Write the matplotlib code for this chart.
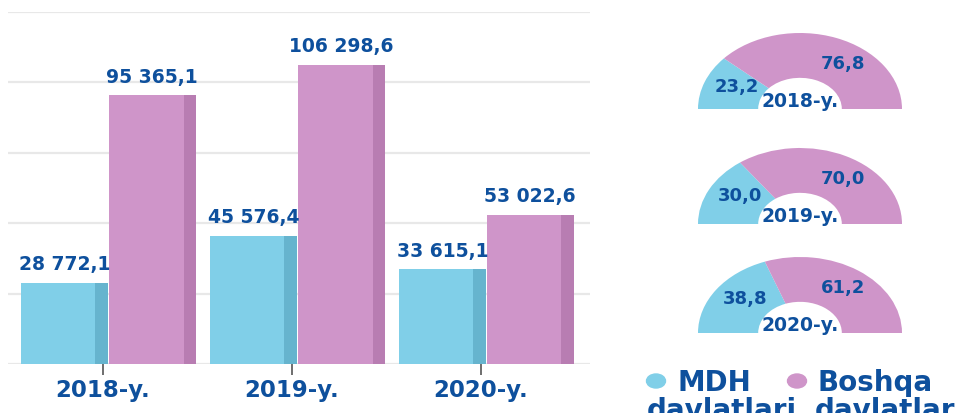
import numpy as np
import matplotlib
matplotlib.use("Agg")
import matplotlib.pyplot as plt
from matplotlib.patches import Ellipse

years = ["2018-y.", "2019-y.", "2020-y."]
mdh = [28772.1, 45576.4, 33615.1]
boshqa = [95365.1, 106298.6, 53022.6]
mdh_share = [23.2, 30.0, 38.8]
boshqa_share = [76.8, 70.0, 61.2]
legend_names = ["MDH\ndavlatlari", "Boshqa\ndavlatlar"]

BLUE = "#80cfe8"
BLUE_DARK = "#66b4ce"
PINK = "#cf95c9"
PINK_DARK = "#b87db2"
TXT = "#0e509d"
W, H = 958, 414

plt.rcParams['font.family'] = ['DejaVu Sans']
fig = plt.figure(figsize=(W / 100, H / 100), dpi=100)

# bar chart
ax = fig.add_axes([8 / W, (H - 365) / H, 582 / W, 352 / H])
x = np.arange(len(years))
bw = 0.46
strip = 0.068
ax.bar(x - bw / 2 - 0.005, mdh, bw, color=BLUE, zorder=2)
ax.bar(x - 0.005 - strip / 2, mdh, strip, color=BLUE_DARK, zorder=3)
ax.bar(x + bw / 2 + 0.005, boshqa, bw, color=PINK, zorder=2)
ax.bar(x + 0.005 + bw - strip / 2, boshqa, strip, color=PINK_DARK, zorder=3)


def fmt(v):
    return f"{v:,.1f}".replace(",", " ").replace(".", ",")


for xi, v in zip(x - bw / 2, mdh):
    ax.annotate(fmt(v), (xi, v), xytext=(0, 7), textcoords="offset points",
                ha="center", va="bottom", fontsize=13.5, fontweight="bold", color=TXT)
for xi, v in zip(x + bw / 2, boshqa):
    ax.annotate(fmt(v), (xi, v), xytext=(0, 7), textcoords="offset points",
                ha="center", va="bottom", fontsize=13.5, fontweight="bold", color=TXT)

ax.set_xlim(-0.532, 2.548)
ax.set_ylim(0, 125000)
ax.set_yticks(np.arange(0, 125001, 25000))
ax.yaxis.grid(True, color="#e8e8e8", linewidth=1.6, zorder=0)
ax.tick_params(axis="y", left=False, labelleft=False)
ax.set_xticks(x - 0.03)
ax.set_xticklabels(years, fontsize=16.5, fontweight="bold", color=TXT)
ax.tick_params(axis="x", length=8, width=1.2, color="#555555", pad=2)
for s in ["top", "right", "left", "bottom"]:
    ax.spines[s].set_visible(False)
ax.set_axisbelow(True)

# half donuts
rx, ry = 102, 76
centers_y = [110, 225, 334]
for i, cy in enumerate(centers_y):
    dax = fig.add_axes([(800 - 1.1 * rx) / W, (H - cy - 0.15 * ry) / H,
                        2.2 * rx / W, 1.25 * ry / H])
    vals = [mdh_share[i], boshqa_share[i], 100]
    dax.pie(vals, colors=[BLUE, PINK, "none"], startangle=180,
            counterclock=False, radius=1,
            wedgeprops=dict(width=0.59, linewidth=0))
    dax.set_aspect("auto")
    dax.set_xlim(-1.1, 1.1)
    dax.set_ylim(-0.15, 1.1)
    dax.axis("off")
    a = np.deg2rad(180 - mdh_share[i] * 0.9)
    dax.text(0.72 * np.cos(a) + 0.05, 0.72 * np.sin(a) + 0.05, f"{mdh_share[i]:.1f}".replace(".", ","),
             ha="center", va="center", fontsize=13, fontweight="bold", color=TXT)
    dax.text(0.42, 0.6, f"{boshqa_share[i]:.1f}".replace(".", ","),
             ha="center", va="center", fontsize=13, fontweight="bold", color=TXT)
    dax.text(0.0, 0.04, years[i], ha="center", va="baseline",
             fontsize=13.5, fontweight="bold", color=TXT)

# legend
for cx, tx, tx2, col, name in [(656, 677, 647, BLUE, legend_names[0]),
                               (797, 818, 815, PINK, legend_names[1])]:
    fig.patches.append(Ellipse((cx / W, (H - 382) / H), 19 / W, 14 / H,
                               transform=fig.transFigure, color=col))
    first, second = name.split("\n")
    fig.text(tx / W, (H - 391) / H, first, ha="left", va="baseline",
             fontsize=20, fontweight="bold", color=TXT)
    fig.text(tx2 / W, (H - 419) / H, second, ha="left", va="baseline",
             fontsize=20, fontweight="bold", color=TXT)

fig.savefig("out.png", dpi=100)
